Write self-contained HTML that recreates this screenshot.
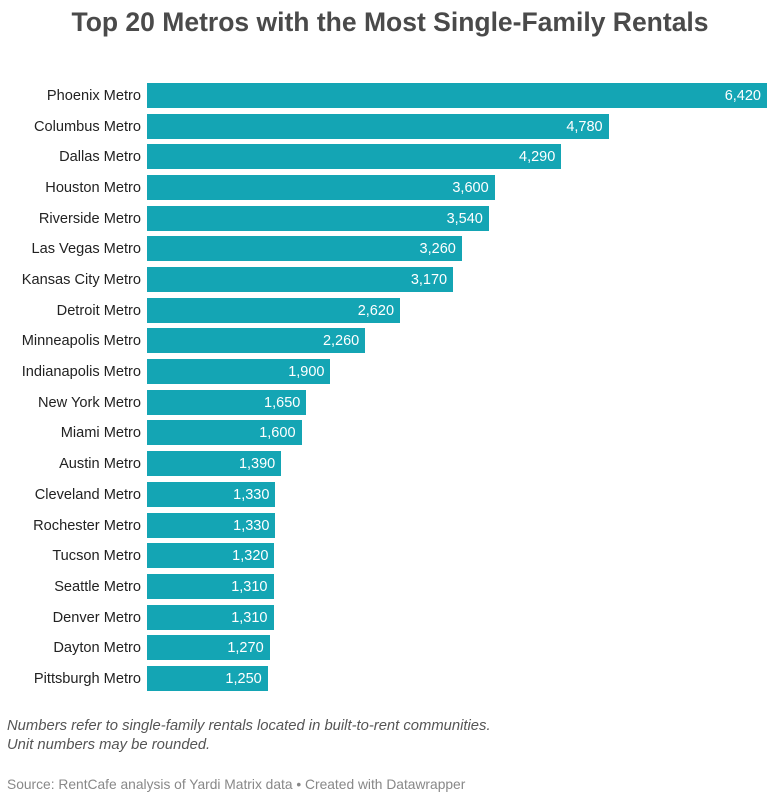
<!DOCTYPE html>
<html><head><meta charset="utf-8"><style>
body{margin:0;width:780px;height:800px;background:#fff;font-family:"Liberation Sans",sans-serif;position:relative;overflow:hidden}
.t{position:absolute;left:0;width:780px;top:7px;text-align:center;font-size:26.5px;font-weight:bold;color:#4a4a4a}
.l{position:absolute;right:639px;font-size:14.6px;color:#222;line-height:27px;white-space:nowrap}
.b{position:absolute;left:147px;height:25px;background:#14a5b4;color:#fff;font-size:14.5px;line-height:27px;text-align:right;box-sizing:border-box;padding-right:6px}
.n{position:absolute;left:7px;top:717px;font-size:14.8px;font-style:italic;color:#555;line-height:19px}
.s{position:absolute;left:7px;top:777px;font-size:13.8px;color:#888}
</style></head><body>
<div class="t">Top 20 Metros with the Most Single-Family Rentals</div>
<div id="c"></div>
<div class="n">Numbers refer to single-family rentals located in built-to-rent communities.<br>Unit numbers may be rounded.</div>
<div class="s">Source: RentCafe analysis of Yardi Matrix data • Created with Datawrapper</div>
<script>
var d=[["Phoenix Metro",6420],["Columbus Metro",4780],["Dallas Metro",4290],["Houston Metro",3600],["Riverside Metro",3540],["Las Vegas Metro",3260],["Kansas City Metro",3170],["Detroit Metro",2620],["Minneapolis Metro",2260],["Indianapolis Metro",1900],["New York Metro",1650],["Miami Metro",1600],["Austin Metro",1390],["Cleveland Metro",1330],["Rochester Metro",1330],["Tucson Metro",1320],["Seattle Metro",1310],["Denver Metro",1310],["Dayton Metro",1270],["Pittsburgh Metro",1250]];
var h="";d.forEach(function(r,i){var y=83+i*30.68;var w=r[1]*620/6420;
h+='<div class="l" style="top:'+y+'px">'+r[0]+'</div><div class="b" style="top:'+y+'px;width:'+w+'px">'+r[1].toLocaleString("en-US")+'</div>';});
document.getElementById("c").innerHTML=h;
</script>
</body></html>
